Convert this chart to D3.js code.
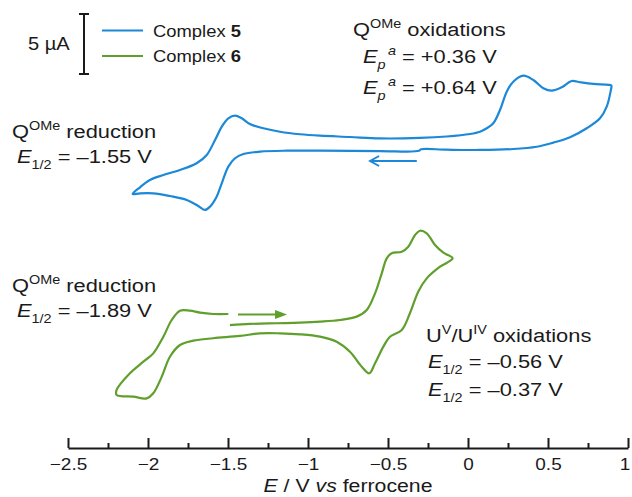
<!DOCTYPE html>
<html>
<head>
<meta charset="utf-8">
<script src="https://cdn.jsdelivr.net/npm/d3@7"></script>
<style>
  body { margin: 0; background: #fff; }
  svg { display: block; font-family: "Liberation Sans", Arial, sans-serif; }
  text { fill: #1a1a1a; }
</style>
</head>
<body>
<svg width="632" height="497"></svg>
<script>
// potential (V vs Fc) , current (uA, offset so the two CVs stack)
var c5Cathodic = [
  [0.898, 29.58], [0.894, 29.23], [0.867, 27.78], [0.825, 26.81], [0.742, 25.98],
  [0.638, 25.23], [0.533, 24.78], [0.429, 24.44], [0.283, 24.25], [0.075, 24.17],
  [-0.133, 24.19], [-0.294, 24.23], [-0.306, 24.10], [-0.55, 24.08], [-0.925, 24.11],
  [-1.133, 24.11], [-1.30, 24.03], [-1.404, 23.83], [-1.456, 23.48], [-1.498, 22.78],
  [-1.539, 21.39], [-1.571, 20.28], [-1.613, 19.44], [-1.644, 19.17], [-1.686, 19.50],
  [-1.758, 20.00], [-1.863, 20.33], [-1.967, 20.56], [-2.05, 20.56], [-2.096, 20.50]
];
var c5Anodic = [
  [-2.05, 21.06], [-1.988, 21.67], [-1.904, 22.08], [-1.80, 22.50], [-1.696, 23.06],
  [-1.633, 23.75], [-1.581, 25.00], [-1.539, 26.11], [-1.498, 26.81], [-1.456, 27.03],
  [-1.414, 26.81], [-1.363, 26.33], [-1.279, 25.98], [-1.175, 25.69], [-1.05, 25.48],
  [-0.925, 25.36], [-0.738, 25.25], [-0.55, 25.13], [-0.30, 25.17], [-0.133, 25.29],
  [0.013, 25.50], [0.075, 25.69], [0.117, 25.98], [0.158, 26.39], [0.20, 27.50],
  [0.242, 29.03], [0.283, 29.86], [0.346, 30.36], [0.408, 30.00], [0.471, 29.31],
  [0.523, 29.11], [0.586, 29.39], [0.648, 29.92], [0.70, 29.81], [0.783, 29.67],
  [0.898, 29.58]
];
var c6Anodic = [
  [-1.488, 9.58], [-1.363, 9.67], [-1.196, 9.73], [-1.05, 9.78], [-0.925, 9.86],
  [-0.80, 10.00], [-0.696, 10.28], [-0.633, 10.83], [-0.581, 12.22], [-0.539, 13.89],
  [-0.508, 15.14], [-0.477, 15.56], [-0.414, 15.69], [-0.373, 16.11], [-0.331, 17.08],
  [-0.30, 17.44], [-0.258, 17.22], [-0.206, 16.25], [-0.154, 15.61], [-0.096, 15.14]
];
var c6Cathodic = [
  [-0.175, 14.44], [-0.258, 13.47], [-0.311, 12.36], [-0.363, 10.56], [-0.414, 9.17],
  [-0.488, 8.61], [-0.529, 7.78], [-0.581, 6.39], [-0.617, 5.56], [-0.664, 6.11],
  [-0.738, 7.36], [-0.821, 8.19], [-0.925, 8.61], [-1.05, 8.81], [-1.175, 8.89],
  [-1.30, 8.89], [-1.425, 8.67], [-1.592, 8.48], [-1.717, 8.28], [-1.80, 7.92],
  [-1.863, 6.94], [-1.914, 5.28], [-1.967, 3.89], [-2.008, 3.47], [-2.092, 3.61],
  [-2.196, 3.75], [-2.196, 4.17]
];
var c6Return = [
  [-2.113, 5.56], [-2.029, 6.53], [-1.967, 7.22], [-1.904, 8.61], [-1.852, 10.00],
  [-1.80, 10.78], [-1.738, 10.78], [-1.675, 10.61], [-1.592, 10.50], [-1.498, 10.50]
];

var majorTicks = [-2.5, -2, -1.5, -1, -0.5, 0, 0.5, 1];
var minorTicks = [-2.25, -1.75, -1.25, -0.75, -0.25, 0.25, 0.75];

var blue = "#1c88d8", green = "#5f9f2c";
var stretch = 1.15;

var svg = d3.select("svg");
var x = d3.scaleLinear().domain([-2.5, 1]).range([68, 628]);
var y = d3.scaleLinear().domain([0, 36]).range([440, 8]);

var line = d3.line()
  .x(function(d) { return x(d[0]); })
  .y(function(d) { return y(d[1]); })
  .curve(d3.curveCatmullRom.alpha(0.5));

var series = [
  {name: "Complex ", num: "5", color: blue, pts: c5Cathodic.concat(c5Anodic)},
  {name: "Complex ", num: "6", color: green, pts: c6Anodic.concat(c6Cathodic, c6Return)}
];

svg.selectAll(".cv")
  .data(series).enter()
  .append("path")
  .attr("class", "cv")
  .attr("fill", "none")
  .attr("stroke", function(d) { return d.color; })
  .attr("stroke-width", 2.2)
  .attr("stroke-linejoin", "round")
  .attr("d", function(d) { return line(d.pts); });

// axis
var axisY = 448;
var ax = svg.append("g")
  .attr("transform", "translate(0," + axisY + ")")
  .call(d3.axisBottom(x).tickValues(majorTicks).tickSizeInner(-10).tickSizeOuter(0)
    .tickPadding(10).tickFormat(d3.format("~g")));
ax.select(".domain").attr("stroke", "#1a1a1a").attr("stroke-width", 2);
ax.selectAll(".tick line").attr("stroke", "#1a1a1a").attr("stroke-width", 2);
ax.selectAll(".tick text")
  .attr("font-size", 16.5)
  .attr("font-family", "Liberation Sans, Arial, sans-serif")
  .attr("fill", "#1a1a1a")
  .attr("transform", "scale(" + stretch + ",1)")
  .filter(function(d) { return d === 1; })
  .attr("dx", -3);

var axMinor = svg.append("g")
  .attr("transform", "translate(0," + axisY + ")")
  .call(d3.axisBottom(x).tickValues(minorTicks).tickSizeInner(-5).tickSizeOuter(0).tickFormat(""));
axMinor.select(".domain").remove();
axMinor.selectAll(".tick line").attr("stroke", "#1a1a1a").attr("stroke-width", 2);

function rich(px, py, size, parts) {
  var t = svg.append("text")
    .attr("transform", "translate(" + px + "," + py + ") scale(" + stretch + ",1)")
    .attr("font-size", size);
  var shift = 0;
  parts.forEach(function(p) {
    var s = t.append("tspan").text(p.t);
    var target = p.sup ? -size * 0.4 : (p.sub ? size * 0.3 : 0);
    s.attr("dy", target - shift);
    shift = target;
    if (p.sup || p.sub) s.attr("font-size", size * 0.66);
    if (p.i) s.attr("font-style", "italic");
    if (p.b) s.attr("font-weight", "bold");
    if (p.dx) s.attr("dx", p.dx);
  });
  return t;
}

rich(348, 492, 18.5, [
  {t: "E", i: true}, {t: " / V "}, {t: "vs", i: true}, {t: " ferrocene"}
]).attr("text-anchor", "middle");

// scale bar (5 uA)
var barV = -2.4, barTop = 35.5;
var bar = svg.append("g").attr("stroke", "#1a1a1a").attr("stroke-width", 2);
bar.append("line").attr("x1", x(barV)).attr("x2", x(barV)).attr("y1", y(barTop)).attr("y2", y(barTop - 5));
bar.append("line").attr("x1", x(barV) - 5).attr("x2", x(barV) + 5).attr("y1", y(barTop)).attr("y2", y(barTop));
bar.append("line").attr("x1", x(barV) - 5).attr("x2", x(barV) + 5).attr("y1", y(barTop - 5)).attr("y2", y(barTop - 5));
rich(28, 50, 17.5, [{t: "5 µA"}]);

// legend
series.forEach(function(s, i) {
  var ly = 30.5 + i * 25.5;
  svg.append("line").attr("x1", 102).attr("x2", 143).attr("y1", ly).attr("y2", ly)
    .attr("stroke", s.color).attr("stroke-width", 2.2);
  rich(153, ly + 6, 16, [{t: s.name}, {t: s.num, b: true}]);
});

// annotations
rich(353, 36, 19, [{t: "Q"}, {t: "OMe", sup: true}, {t: " oxidations"}]);
rich(363, 63, 19, [{t: "E", i: true}, {t: "p", i: true, sub: true}, {t: "a", i: true, sup: true, dx: 2}, {t: " = +0.36 V"}]);
rich(363, 94, 19, [{t: "E", i: true}, {t: "p", i: true, sub: true}, {t: "a", i: true, sup: true, dx: 2}, {t: " = +0.64 V"}]);

rich(12, 138, 19, [{t: "Q"}, {t: "OMe", sup: true}, {t: " reduction"}]);
rich(17, 163, 19, [{t: "E", i: true}, {t: "1/2", sub: true}, {t: " = –1.55 V"}]);

rich(12, 292, 19, [{t: "Q"}, {t: "OMe", sup: true}, {t: " reduction"}]);
rich(17, 317, 19, [{t: "E", i: true}, {t: "1/2", sub: true}, {t: " = –1.89 V"}]);

rich(426, 342, 19, [{t: "U"}, {t: "V", sup: true}, {t: "/U"}, {t: "IV", sup: true}, {t: " oxidations"}]);
rich(428, 368, 19, [{t: "E", i: true}, {t: "1/2", sub: true}, {t: " = –0.56 V"}]);
rich(428, 396, 19, [{t: "E", i: true}, {t: "1/2", sub: true}, {t: " = –0.37 V"}]);

// scan direction arrows
var a5 = {from: -0.32, to: -0.612, cur: 23.25};
svg.append("line").attr("x1", x(a5.from)).attr("x2", x(a5.to)).attr("y1", y(a5.cur)).attr("y2", y(a5.cur))
  .attr("stroke", blue).attr("stroke-width", 2);
svg.append("path")
  .attr("d", "M" + (x(a5.to) + 9) + "," + (y(a5.cur) - 5) + "L" + x(a5.to) + "," + y(a5.cur) + "L" + (x(a5.to) + 9) + "," + (y(a5.cur) + 5))
  .attr("fill", "none").attr("stroke", blue).attr("stroke-width", 2);

var a6 = {from: -1.4375, to: -1.131, cur: 10.46};
svg.append("line").attr("x1", x(a6.from)).attr("x2", x(a6.to) - 8).attr("y1", y(a6.cur)).attr("y2", y(a6.cur))
  .attr("stroke", green).attr("stroke-width", 2);
svg.append("path")
  .attr("d", "M" + x(a6.to) + "," + y(a6.cur) + "L" + (x(a6.to) - 12) + "," + (y(a6.cur) - 4.5) + "L" + (x(a6.to) - 12) + "," + (y(a6.cur) + 4.5) + "Z")
  .attr("fill", green);
</script>
</body>
</html>
